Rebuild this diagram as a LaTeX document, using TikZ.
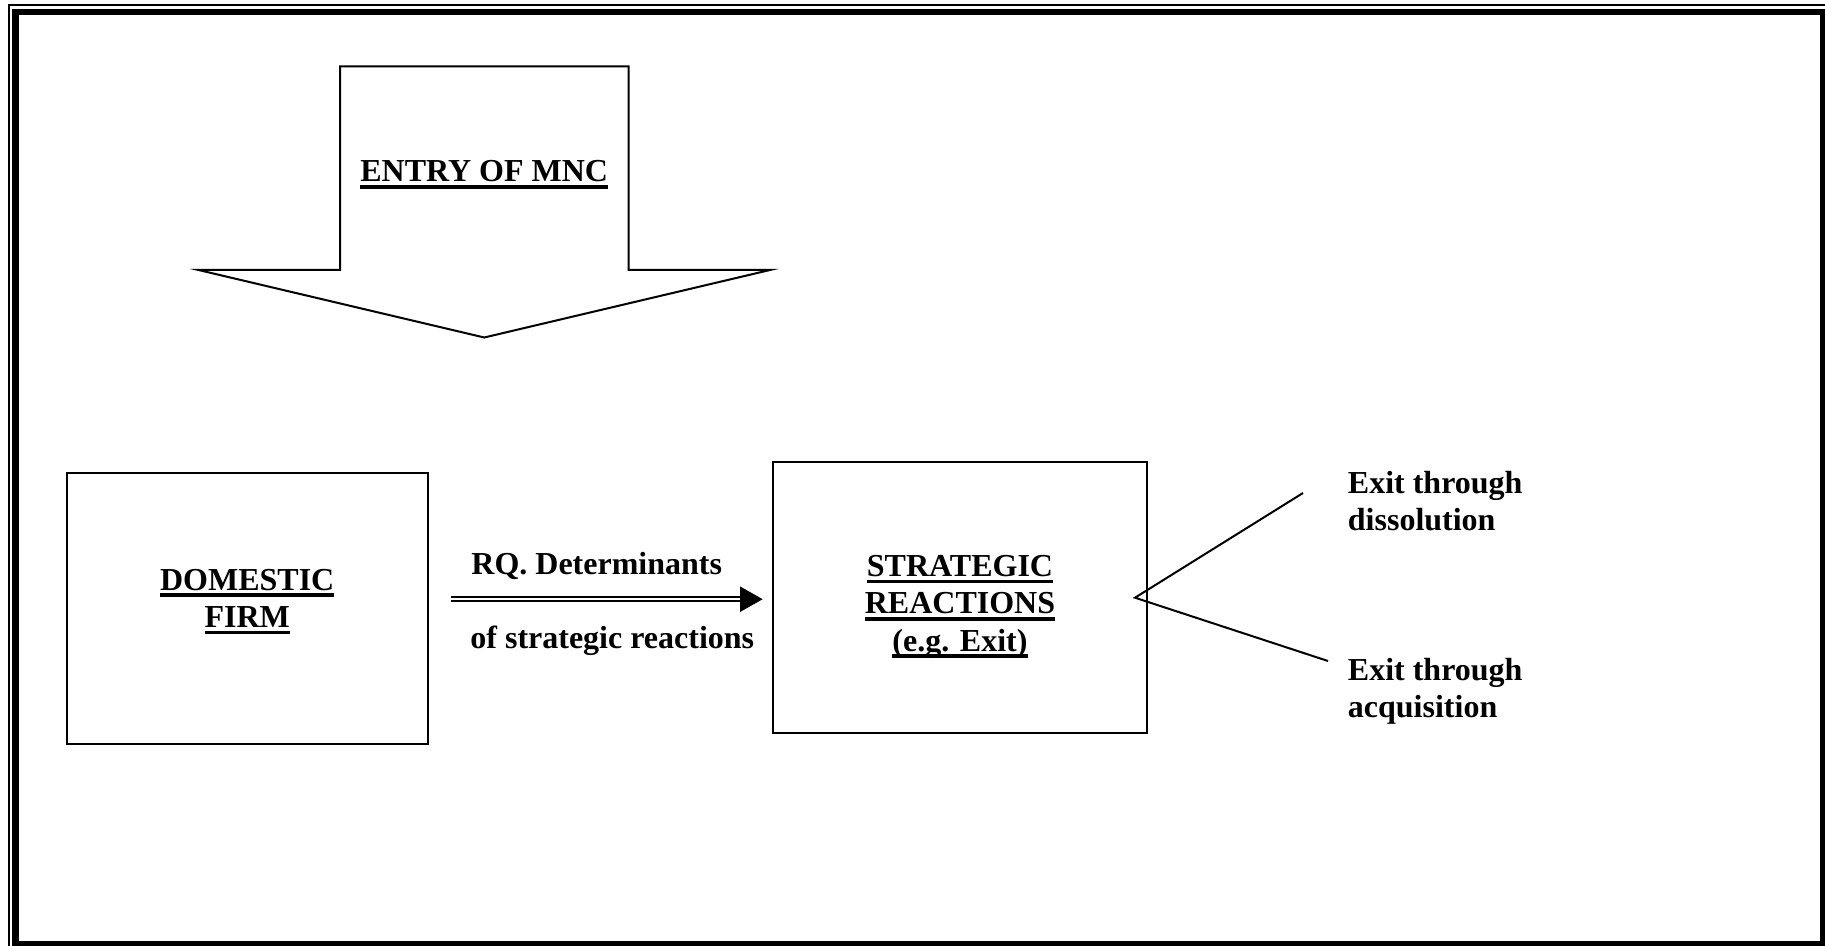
\documentclass[tikz,border=0pt]{standalone}
\usepackage{fontspec}
\setmainfont{Liberation Serif}
\usetikzlibrary{arrows.meta}

% underline that sits a fixed distance under the baseline
\newcommand{\ulword}[1]{\vtop{\hbox{\raisebox{0pt}[\height][0pt]{#1}}\kern1.5pt\hrule height 1.8pt}}

\begin{document}
\begin{tikzpicture}[x=0.5pt,y=0.5pt,yscale=-1,xscale=1,
  every node/.style={inner sep=0pt, font=\bfseries\fontsize{16pt}{18.6pt}\selectfont},
  firmbox/.style={draw, line width=1pt, minimum width=180.5pt, minimum height=135.5pt},
  reactbox/.style={draw, line width=1pt, minimum width=187.3pt, minimum height=135.2pt},
  boxtext/.style={align=center},
  exittext/.style={align=left, anchor=north west},
  link/.style={line width=1pt},
  dblarrow/.style={double, double distance=1pt, line width=1pt, -{Triangle[length=11.3pt,width=12.5pt]}}]
\useasboundingbox (0,0) rectangle (1825,946);
\clip (0,0) rectangle (1825,946);

%Shape: Page border
\draw [line width=1pt] (8.5,5.5) rectangle (1832,953);
\draw [line width=3.25pt] (15.5,12) rectangle (1823,944);

%Shape: Down arrow
\draw [line width=1pt, line join=miter] (340,66.3) -- (628.5,66.3) -- (628.5,270) -- (770,270) -- (484.25,337.5) -- (198.5,270) -- (340,270) -- cycle ;
% Text Node
\node [anchor=base] (entry) at (484.25,182) {\ulword{ENTRY OF MNC}};

%Shape: Rectangle
\node [firmbox] (dom) at (247.2,608.3) {};
% Text Node
\node [boxtext] (domtxt) at ([yshift=-3.3pt]dom.center) {\ulword{DOMESTIC}\\\ulword{FIRM}};

%Shape: Rectangle
\node [reactbox] (strat) at (960,597.5) {};
% Text Node
\node [boxtext] (strattxt) at ([yshift=4.6pt]strat.center) {\ulword{STRATEGIC}\\\ulword{REACTIONS}\\\ulword{(e.g. Exit)}};

%Double arrow
\coordinate (rqy) at ([yshift=0.85pt]strat.west);
\draw [dblarrow, shorten <=11pt, shorten >=4.5pt] (dom.east |- rqy) -- (rqy) ;
% Text Node
\node [anchor=base west] (rq) at (471,574) {RQ. Determinants};
% Text Node
\node [anchor=base west] (rqof) at (470,648) {of strategic reactions};

%Straight Lines
\coordinate (fork) at (1135,597.7);
\coordinate (upend) at (1303,493);
\coordinate (downend) at (1328,661);
\draw [link] (upend) -- (fork) -- (downend) ;
% Text Node
\node [exittext] (diss) at (1347.5,471) {Exit through\\dissolution};
% Text Node
\node [exittext] (acq) at (1347.5,658) {Exit through\\acquisition};

\end{tikzpicture}
\end{document}
